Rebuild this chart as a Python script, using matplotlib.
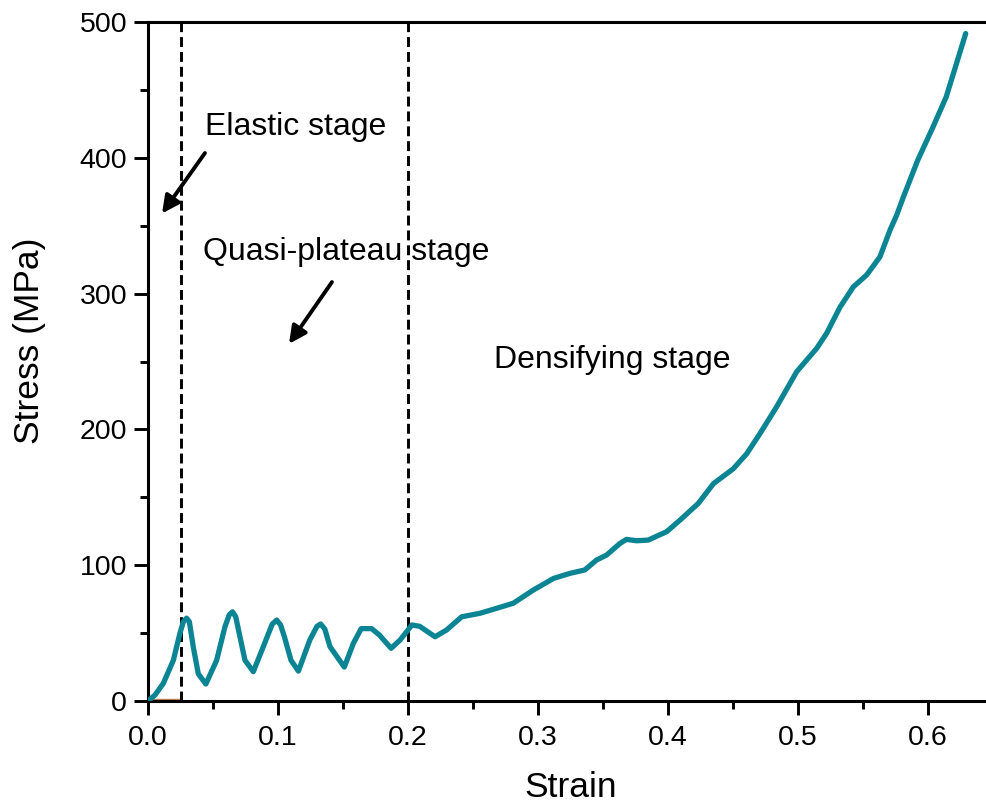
import matplotlib
matplotlib.use("Agg")
import matplotlib.pyplot as plt

strain = [0.0, 0.0054, 0.0118, 0.0195, 0.0246, 0.0272, 0.0297, 0.0318, 0.0348, 0.0387,
          0.0445, 0.0528, 0.0592, 0.0625, 0.065, 0.0675, 0.0708, 0.0746, 0.081, 0.0887,
          0.0955, 0.099, 0.102, 0.105, 0.11, 0.1157, 0.1245, 0.1300, 0.1328, 0.1360, 0.14,
          0.151, 0.158, 0.164, 0.172, 0.178, 0.187, 0.194, 0.203, 0.209, 0.2208, 0.2297,
          0.2413, 0.2554, 0.268, 0.281, 0.2964, 0.312, 0.3246, 0.336, 0.345, 0.3528,
          0.363, 0.368, 0.3759, 0.3848, 0.399, 0.409, 0.4233, 0.4349, 0.4502, 0.4605,
          0.4708, 0.4836, 0.499, 0.5144, 0.522, 0.5323, 0.5426, 0.5528, 0.563, 0.5708,
          0.576, 0.581, 0.592, 0.604, 0.614, 0.629]
stress = [0.0, 4.4, 13.0, 30.0, 50.0, 58.4, 61.0, 58.4, 40.0, 20.0,
          12.5, 30.0, 54.7, 63.5, 65.7, 62.0, 47.0, 30.0, 21.6, 40.0,
          56.5, 59.6, 56.0, 47.0, 30.0, 22.0, 45.0, 55.0, 56.7, 53.0, 40.0,
          25.0, 42.5, 53.3, 53.3, 48.6, 38.8, 45.0, 56.0, 55.0, 47.3, 52.3,
          62.0, 64.6, 68.2, 72.0, 81.7, 90.3, 94.0, 96.5, 103.8, 107.5,
          116.0, 119.0, 118.0, 118.5, 124.7, 133.0, 145.5, 160.0, 171.0, 182.0,
          197.0, 216.7, 242.5, 259.7, 270.7, 290.0, 305.0, 313.7, 327.0, 346.8,
          358.0, 371.0, 398.0, 423.0, 444.8, 491.5]

stage_bounds = [0.0254, 0.2]
x_ticks = [0.0, 0.1, 0.2, 0.3, 0.4, 0.5, 0.6]
y_ticks = [0, 100, 200, 300, 400, 500]

plt.rcParams['font.family'] = ['Liberation Sans', 'DejaVu Sans']

fig = plt.figure(figsize=(9.86, 8.10), dpi=100)
ax = fig.add_axes([148/986, 109/810, 845/986, 679/810])

ax.plot(strain, stress, color='#0b8493', lw=3.8, solid_joinstyle='round',
        solid_capstyle='round', zorder=3)
for b in stage_bounds:
    ax.axvline(b, color='black', lw=2.1, linestyle=(0, (3.4, 1.7)), zorder=2)
ax.plot([0, stage_bounds[0]], [1.5, 1.5], color='#c08050', lw=1, zorder=1)

ax.set_xlim(0, 0.65)
ax.set_ylim(0, 500)
ax.set_xticks(x_ticks)
ax.set_xticklabels([f"{t:.1f}" for t in x_ticks])
ax.set_yticks(y_ticks)
ax.set_xticks([0.05, 0.15, 0.25, 0.35, 0.45, 0.55, 0.65], minor=True)
ax.set_yticks([50, 150, 250, 350, 450], minor=True)
ax.tick_params(which='major', direction='out', length=10, width=2.1, labelsize=20.5)
ax.tick_params(axis='x', which='major', pad=7)
ax.tick_params(axis='y', which='major', pad=5)
ax.tick_params(which='minor', direction='out', length=5.5, width=2.1)
ax.tick_params(top=False, right=False)
for s in ax.spines.values():
    s.set_linewidth(2.2)

ax.set_xlabel('Strain', fontsize=25.5, labelpad=15)
ax.set_ylabel('Stress (MPa)', fontsize=25.5)
ax.yaxis.set_label_coords(-0.121, 0.53)

ax.text(0.0438, 422.7, 'Elastic stage', fontsize=23, va='center', ha='left')
ax.text(0.0423, 330.6, 'Quasi-plateau stage', fontsize=23, va='center', ha='left')
ax.text(0.266, 251, 'Densifying stage', fontsize=23, va='center', ha='left')

arrow = dict(arrowstyle='-|>', lw=2.8, mutation_scale=26, color='black',
             shrinkA=0, shrinkB=0)
ax.annotate('', xy=(0.0108, 359), xytext=(0.0438, 403.5), arrowprops=arrow)
ax.annotate('', xy=(0.1085, 263), xytext=(0.1415, 308.5), arrowprops=arrow)

fig.savefig('out.png', dpi=100)
